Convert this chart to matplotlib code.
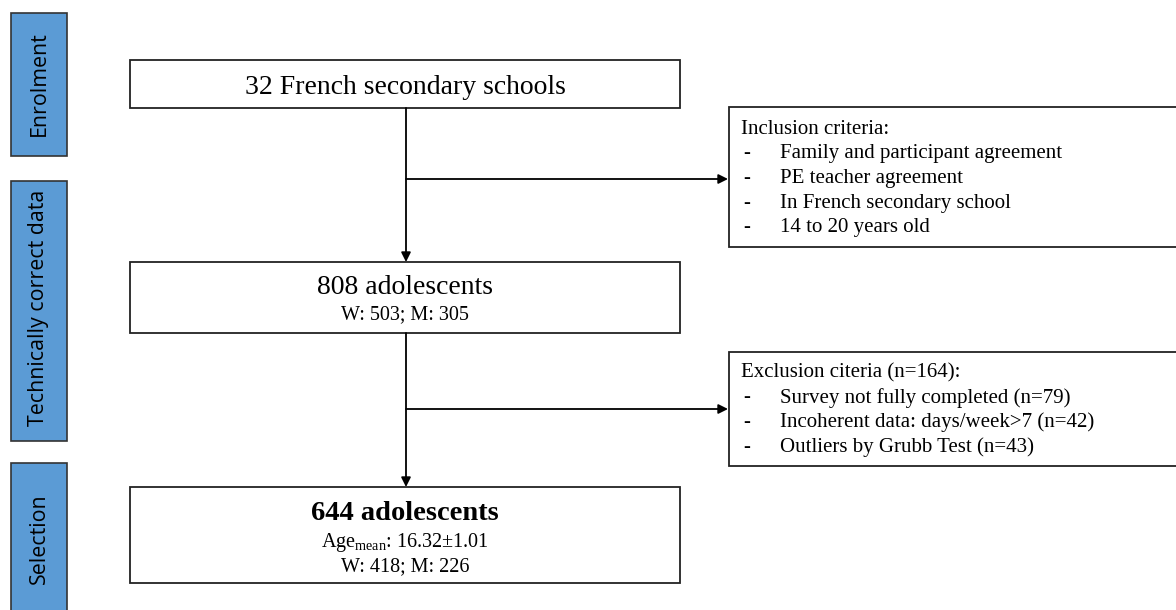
import matplotlib.pyplot as plt
from matplotlib.patches import Rectangle

plt.rcParams['mathtext.fontset'] = 'custom'
plt.rcParams['mathtext.rm'] = 'Liberation Serif'
plt.rcParams['mathtext.it'] = 'Liberation Serif:italic'

# stage labels on the left
stages = ['Enrolment', 'Technically correct data', 'Selection']
stage_spans = [(13, 156), (181, 441), (463, 615)]

# main flow boxes
box_titles = ['32 French secondary schools', '808 adolescents', '644 adolescents']
box_subs = [[], ['W: 503; M: 305'], [r'Age$_{\mathrm{mean}}$: 16.32±1.01', 'W: 418; M: 226']]
box_spans = [(60, 108), (262, 333), (487, 583)]

# side boxes
incl_head = 'Inclusion criteria:'
incl_items = ['Family and participant agreement', 'PE teacher agreement',
              'In French secondary school', '14 to 20 years old']
excl_head = 'Exclusion citeria (n=164):'
excl_items = ['Survey not fully completed (n=79)', 'Incoherent data: days/week>7 (n=42)',
              'Outliers by Grubb Test (n=43)']

W, H = 1176, 610
fig = plt.figure(figsize=(W / 100, H / 100), dpi=100)
ax = fig.add_axes([0, 0, 1, 1])
ax.set_xlim(0, W)
ax.set_ylim(H, 0)
ax.axis('off')

serif = 'Liberation Serif'

label_y = [84, 308, 539]
for name, (y0, y1), ly in zip(stages, stage_spans, label_y):
    ax.add_patch(Rectangle((11, y0), 56, y1 - y0, facecolor='#5b9bd5', edgecolor='#333333', lw=1.2))
    ax.text(39, ly, name, rotation=90, ha='center', va='center',
            fontsize=15.4, family='Open Sans', color='black')

bx0, bx1 = 130, 680
cx = 406
mid = (bx0 + bx1) / 2
for (y0, y1) in box_spans:
    ax.add_patch(Rectangle((bx0, y0), bx1 - bx0, y1 - y0, facecolor='white', edgecolor='#222222', lw=1.3))

ax.text(mid, 87, box_titles[0], ha='center', va='center', fontsize=20, family=serif)
ax.text(mid, 288, box_titles[1], ha='center', va='center', fontsize=20, family=serif)
ax.text(mid, 315, box_subs[1][0], ha='center', va='center', fontsize=14.5, family=serif)
ax.text(mid, 513, box_titles[2], ha='center', va='center', fontsize=20.5, family=serif, weight='bold')
ax.text(mid, 542, box_subs[2][0], ha='center', va='center', fontsize=14.5, family=serif)
ax.text(mid, 567, box_subs[2][1], ha='center', va='center', fontsize=14.5, family=serif)

arrow = dict(arrowstyle='-|>', color='black', lw=1.3, mutation_scale=14, shrinkA=0, shrinkB=0)
ax.annotate('', xy=(cx, 262), xytext=(cx, 108), arrowprops=arrow)
ax.annotate('', xy=(cx, 487), xytext=(cx, 333), arrowprops=arrow)
ax.annotate('', xy=(728, 179), xytext=(cx, 179), arrowprops=arrow)
ax.annotate('', xy=(728, 409), xytext=(cx, 409), arrowprops=arrow)

# side boxes
for (y0, y1), head, items, hy in [((107, 247), incl_head, incl_items, 129),
                                  ((352, 466), excl_head, excl_items, 373)]:
    ax.add_patch(Rectangle((729, y0), 460, y1 - y0, facecolor='white', edgecolor='#222222',
                           lw=1.3, clip_on=False))
    ax.text(741, hy, head, ha='left', va='center', fontsize=15, family=serif)
    for k, item in enumerate(items):
        yy = hy + 24.7 * (k + 1)
        ax.text(743, yy, '-', ha='left', va='center', fontsize=15, family=serif)
        ax.text(780, yy, item, ha='left', va='center', fontsize=15, family=serif)

fig.savefig('out.png', dpi=100)
